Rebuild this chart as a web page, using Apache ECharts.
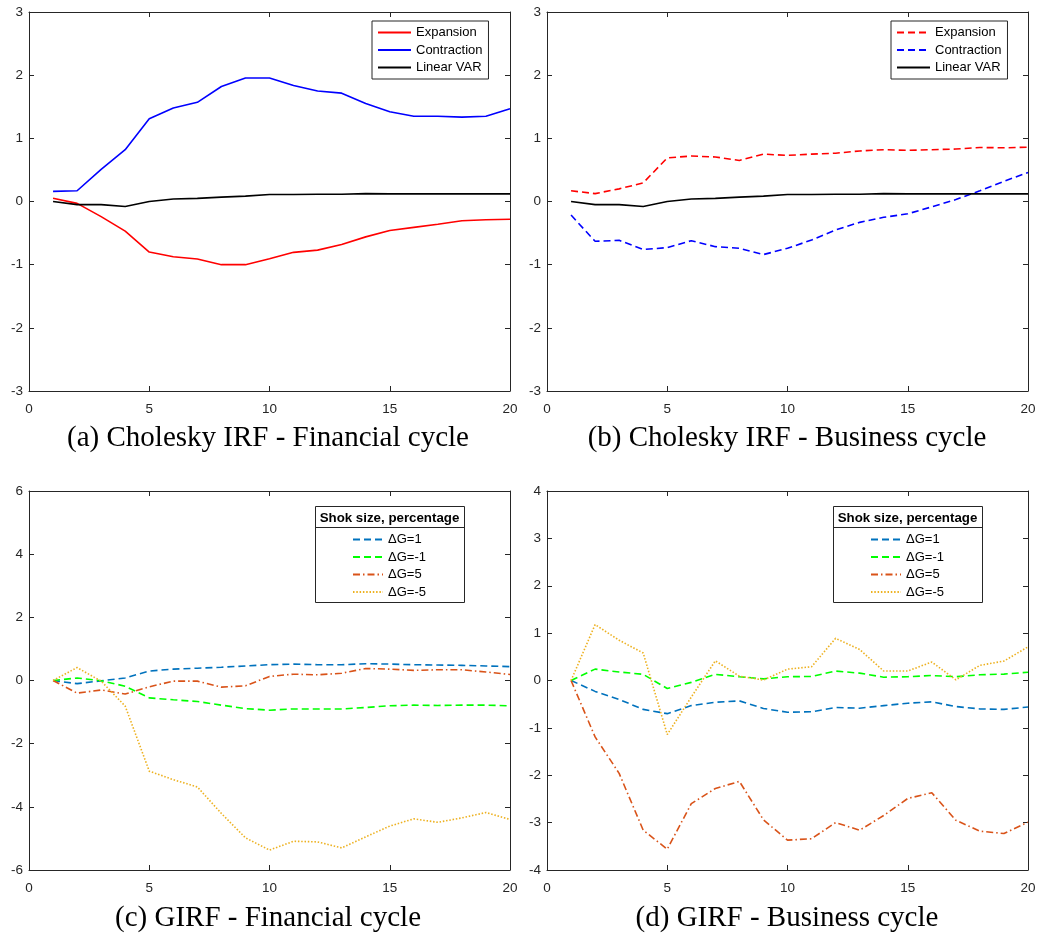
<!DOCTYPE html>
<html>
<head>
<meta charset="utf-8">
<script src="https://cdn.jsdelivr.net/npm/echarts@6/dist/echarts.min.js"></script>
<style>
  html, body { margin: 0; padding: 0; background: #fff; }
  #main { width: 1039px; height: 935px; }
</style>
</head>
<body>
<div id="main"></div>
<script>
// horizon 1..20
const steps = [1, 2, 3, 4, 5, 6, 7, 8, 9, 10, 11, 12, 13, 14, 15, 16, 17, 18, 19, 20];

// (a) Cholesky IRF - Financial cycle
const finExpansion = [0.05, -0.03, -0.24, -0.47, -0.80, -0.875, -0.91, -1.0, -1.0, -0.905, -0.805, -0.77, -0.68, -0.56, -0.46, -0.41, -0.36, -0.305, -0.29, -0.28];
const finContraction = [0.16, 0.17, 0.51, 0.82, 1.31, 1.48, 1.57, 1.82, 1.955, 1.955, 1.835, 1.75, 1.715, 1.55, 1.42, 1.35, 1.35, 1.335, 1.35, 1.47];
const linearVar = [0.0, -0.05, -0.05, -0.08, 0.0, 0.04, 0.05, 0.07, 0.085, 0.11, 0.11, 0.115, 0.115, 0.125, 0.12, 0.12, 0.12, 0.12, 0.12, 0.12];

// (b) Cholesky IRF - Business cycle
const busExpansion = [0.17, 0.125, 0.2, 0.295, 0.69, 0.72, 0.705, 0.65, 0.75, 0.73, 0.75, 0.765, 0.8, 0.82, 0.81, 0.82, 0.83, 0.855, 0.85, 0.86];
const busContraction = [-0.215, -0.63, -0.615, -0.76, -0.73, -0.62, -0.715, -0.74, -0.84, -0.74, -0.61, -0.45, -0.33, -0.25, -0.195, -0.085, 0.03, 0.17, 0.32, 0.46];

// (c) GIRF - Financial cycle
const finG1 = [0, -0.1, -0.01, 0.08, 0.3, 0.36, 0.39, 0.42, 0.46, 0.5, 0.52, 0.5, 0.5, 0.53, 0.52, 0.5, 0.49, 0.48, 0.46, 0.44];
const finGm1 = [0, 0.08, -0.01, -0.18, -0.55, -0.61, -0.665, -0.78, -0.89, -0.94, -0.9, -0.9, -0.9, -0.855, -0.8, -0.78, -0.79, -0.78, -0.78, -0.8];
const finG5 = [0, -0.4, -0.3, -0.43, -0.2, -0.02, -0.02, -0.21, -0.17, 0.13, 0.2, 0.18, 0.23, 0.38, 0.36, 0.32, 0.34, 0.34, 0.27, 0.19];
const finGm5 = [0, 0.41, -0.02, -0.81, -2.87, -3.14, -3.37, -4.21, -4.98, -5.37, -5.09, -5.11, -5.3, -4.95, -4.61, -4.38, -4.49, -4.35, -4.18, -4.4];

// (d) GIRF - Business cycle
const busG1 = [0, -0.23, -0.4, -0.61, -0.7, -0.53, -0.46, -0.43, -0.59, -0.67, -0.66, -0.57, -0.585, -0.53, -0.48, -0.45, -0.55, -0.6, -0.61, -0.56];
const busGm1 = [0, 0.24, 0.18, 0.13, -0.17, -0.04, 0.13, 0.08, 0.035, 0.08, 0.085, 0.2, 0.155, 0.07, 0.08, 0.105, 0.08, 0.12, 0.135, 0.175];
const busG5 = [0, -1.19, -1.96, -3.16, -3.56, -2.6, -2.28, -2.13, -2.94, -3.37, -3.34, -3.0, -3.16, -2.85, -2.49, -2.37, -2.95, -3.18, -3.23, -2.99];
const busGm5 = [0, 1.18, 0.85, 0.58, -1.14, -0.35, 0.415, 0.09, 0.01, 0.24, 0.29, 0.89, 0.655, 0.2, 0.2, 0.39, 0.015, 0.32, 0.41, 0.71];

const captions = ['(a) Cholesky IRF - Financial cycle', '(b) Cholesky IRF - Business cycle', '(c) GIRF - Financial cycle', '(d) GIRF - Business cycle'];
const yRanges = [[-3, 3, 1], [-3, 3, 1], [-6, 6, 2], [-4, 4, 1]];
const irfNames = ['Expansion', 'Contraction', 'Linear VAR'];
const girfNames = ['\u0394G=1', '\u0394G=-1', '\u0394G=5', '\u0394G=-5'];
const girfTitle = 'Shok size, percentage';

const axisColor = '#262626';
const grids = [
  { left: 29, top: 12, width: 481, height: 379 },
  { left: 547, top: 12, width: 481, height: 379 },
  { left: 29, top: 491, width: 481, height: 379 },
  { left: 547, top: 491, width: 481, height: 379 }
];

const DASH = [7, 4];
const DASHDOT = [7, 3, 1.5, 3];
const DOT = [1.5, 1.8];

const pairs = (vals) => steps.map((s, i) => [s, vals[i]]);

let xAxes = [], yAxes = [];
grids.forEach((g, i) => {
  const base = {
    gridIndex: i, type: 'value', min: 0, max: 20, interval: 5,
    axisLine: { show: true, onZero: false, lineStyle: { color: axisColor, width: 1 } },
    axisTick: { show: true, inside: true, length: 5, lineStyle: { color: axisColor } },
    splitLine: { show: false }
  };
  xAxes.push(Object.assign({}, base, {
    position: 'bottom',
    axisLabel: { color: axisColor, fontFamily: 'Liberation Sans', fontSize: 13.5, margin: 11 }
  }));
  xAxes.push(Object.assign({}, base, { position: 'top', axisLabel: { show: false } }));
  const r = yRanges[i];
  const ybase = Object.assign({}, base, { min: r[0], max: r[1], interval: r[2] });
  yAxes.push(Object.assign({}, ybase, {
    position: 'left',
    axisLabel: { color: axisColor, fontFamily: 'Liberation Sans', fontSize: 13.5, margin: 6 }
  }));
  yAxes.push(Object.assign({}, ybase, { position: 'right', axisLabel: { show: false } }));
});

function line(panel, name, vals, color, dash) {
  return {
    name: panel + '|' + name,
    type: 'line',
    xAxisIndex: panel * 2,
    yAxisIndex: panel * 2,
    data: pairs(vals),
    symbol: 'none',
    animation: false,
    lineStyle: { color: color, width: 1.6, type: dash || 'solid' },
    itemStyle: { color: color }
  };
}

const girfColors = ['#0072BD', '#00FF00', '#D95319', '#EDB120'];
const girfDash = [DASH, DASH, DASHDOT, DOT];

const series = [
  line(0, irfNames[0], finExpansion, '#ff0000'),
  line(0, irfNames[1], finContraction, '#0000ff'),
  line(0, irfNames[2], linearVar, '#000000'),
  line(1, irfNames[0], busExpansion, '#ff0000', DASH),
  line(1, irfNames[1], busContraction, '#0000ff', DASH),
  line(1, irfNames[2], linearVar, '#000000'),
  ...[finG1, finGm1, finG5, finGm5].map((v, k) => line(2, girfNames[k], v, girfColors[k], girfDash[k])),
  ...[busG1, busGm1, busG5, busGm5].map((v, k) => line(3, girfNames[k], v, girfColors[k], girfDash[k]))
];

const legendText = { color: '#000', fontFamily: 'Liberation Sans', fontSize: 13 };
const stripName = (name) => name.split('|')[1];

const legends = [
  { panel: 0, left: 372, top: 21, names: irfNames, border: true, w: 33 },
  { panel: 1, left: 891, top: 21, names: irfNames, border: true, w: 33 },
  { panel: 2, left: 352, top: 533, names: girfNames, border: false, w: 30 },
  { panel: 3, left: 870, top: 533, names: girfNames, border: false, w: 30 }
].map(l => ({
  z: 10,
  orient: 'vertical',
  left: l.left, top: l.top,
  itemWidth: l.w, itemHeight: 10,
  itemGap: 4.5,
  padding: l.border ? [5, 6, 5, 5] : 0,
  borderColor: l.border ? axisColor : 'transparent',
  borderWidth: l.border ? 1 : 0,
  backgroundColor: l.border ? '#fff' : 'transparent',
  selectedMode: false,
  itemStyle: { opacity: 0 },
  textStyle: legendText,
  formatter: stripName,
  data: l.names.map(n => l.panel + '|' + n)
}));

// boxes with title for the GIRF legends
const girfBoxes = [315, 833];
const graphic = [];
girfBoxes.forEach(bx => {
  graphic.push({
    type: 'rect', left: bx, top: 506, z: 5,
    shape: { width: 149, height: 96 },
    style: { fill: '#fff', stroke: axisColor, lineWidth: 1 }
  });
  graphic.push({
    type: 'line', z: 6,
    shape: { x1: bx, y1: 527.5, x2: bx + 149, y2: 527.5 },
    style: { stroke: axisColor, lineWidth: 1 }
  });
  graphic.push({
    type: 'text', z: 6, x: bx + 74.5, y: 518.5,
    style: { text: girfTitle, align: 'center', verticalAlign: 'middle', font: 'bold 13.3px "Liberation Sans"', fill: '#000' }
  });
});
const capPos = [[268, 438], [787, 438], [268, 918], [787, 918]];
captions.forEach((c, i) => {
  graphic.push({
    type: 'text', x: capPos[i][0], y: capPos[i][1],
    style: { text: c, align: 'center', verticalAlign: 'middle', font: '29px "Liberation Serif"', fill: '#000' }
  });
});

const chart = echarts.init(document.getElementById('main'), null, { renderer: 'canvas' });
chart.setOption({
  animation: false,
  backgroundColor: '#fff',
  grid: grids,
  xAxis: xAxes,
  yAxis: yAxes,
  legend: legends,
  graphic: graphic,
  series: series
});
</script>
</body>
</html>
